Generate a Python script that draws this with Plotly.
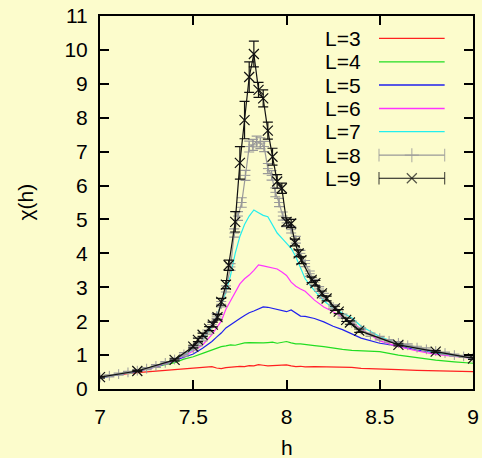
import plotly.graph_objects as go

# ---- data ----
h_grid = [7.0, 7.1, 7.2, 7.3, 7.4, 7.45, 7.5, 7.55, 7.6, 7.625, 7.65, 7.675, 7.7, 7.725,
          7.75, 7.775, 7.8, 7.825, 7.85, 7.875, 7.9, 7.925, 7.95, 7.975, 8.0, 8.025, 8.05,
          8.075, 8.1, 8.15, 8.2, 8.25, 8.3, 8.35, 8.4, 8.5, 8.6, 8.7, 8.8, 8.9, 9.0]

chi_L3 = [0.33, 0.42, 0.48, 0.53, 0.57, 0.60, 0.62, 0.65, 0.66, 0.62, 0.60, 0.63, 0.65, 0.66,
          0.67, 0.66, 0.69, 0.68, 0.72, 0.70, 0.68, 0.69, 0.70, 0.69, 0.71, 0.68, 0.66,
          0.67, 0.65, 0.66, 0.66, 0.64, 0.66, 0.64, 0.61, 0.60, 0.57, 0.55, 0.53, 0.52, 0.51]

chi_L4 = [0.33, 0.45, 0.55, 0.66, 0.78, 0.88, 0.95, 1.05, 1.15, 1.20, 1.25, 1.27, 1.30, 1.29,
          1.33, 1.36, 1.37, 1.36, 1.37, 1.36, 1.37, 1.38, 1.35, 1.38, 1.40, 1.36, 1.33,
          1.33, 1.32, 1.28, 1.25, 1.20, 1.17, 1.14, 1.13, 1.10, 1.00, 0.92, 0.85, 0.80, 0.76]

chi_L5 = [0.33, 0.43, 0.52, 0.65, 0.83, 0.93, 1.03, 1.20, 1.40, 1.53, 1.65, 1.80, 1.90, 2.00,
          2.08, 2.17, 2.25, 2.30, 2.36, 2.42, 2.41, 2.38, 2.35, 2.30, 2.28, 2.33, 2.25,
          2.15, 2.14, 2.08, 1.98, 1.85, 1.75, 1.63, 1.50, 1.35, 1.27, 1.15, 1.06, 0.98, 0.92]

chi_L6 = [0.33, 0.43, 0.53, 0.66, 0.85, 0.98, 1.12, 1.30, 1.60, 1.80, 2.00, 2.35, 2.60, 2.85,
          3.10, 3.25, 3.36, 3.50, 3.66, 3.63, 3.60, 3.57, 3.54, 3.45, 3.35, 3.15, 3.03,
          2.95, 2.88, 2.62, 2.42, 2.28, 2.13, 1.96, 1.77, 1.42, 1.25, 1.12, 1.02, 0.95, 0.90]

chi_L7 = [0.33, 0.43, 0.53, 0.68, 0.87, 1.00, 1.18, 1.45, 1.85, 2.15, 2.50, 2.85, 3.35, 4.00,
          4.50, 4.85, 5.10, 5.28, 5.20, 5.12, 5.08, 4.82, 4.60, 4.45, 4.30, 4.15, 3.90,
          3.55, 3.25, 2.90, 2.60, 2.38, 2.25, 2.10, 1.85, 1.55, 1.33, 1.20, 1.08, 0.98, 0.90]

h_L8 = [7.0, 7.05, 7.1, 7.15, 7.2, 7.25, 7.3, 7.35, 7.4, 7.45, 7.5, 7.525, 7.55, 7.575, 7.6,
        7.625, 7.65, 7.675, 7.7, 7.72, 7.74, 7.76, 7.78, 7.8, 7.82, 7.84, 7.86, 7.88, 7.9,
        7.92, 7.94, 7.96, 7.98, 8.0, 8.025, 8.05, 8.075, 8.1, 8.125, 8.15, 8.175, 8.2, 8.25,
        8.3, 8.35, 8.4, 8.45, 8.5, 8.55, 8.6, 8.65, 8.7, 8.75, 8.8, 8.85, 8.9, 8.95, 9.0]
chi_L8 = [0.34, 0.39, 0.44, 0.49, 0.54, 0.60, 0.68, 0.77, 0.87, 1.02, 1.20, 1.33, 1.48, 1.68, 1.90,
          2.15, 2.50, 2.95, 3.60, 4.60, 5.10, 5.50, 6.30, 7.15, 7.20, 7.30, 7.25, 7.15, 6.50,
          6.30, 5.80, 5.50, 5.10, 4.90, 4.70, 4.40, 4.00, 3.70, 3.40, 3.15, 2.95, 2.75, 2.42,
          2.15, 1.95, 1.75, 1.60, 1.50, 1.42, 1.36, 1.29, 1.22, 1.17, 1.12, 1.06, 1.00, 0.96, 0.92]
err_L8 = [0.03, 0.03, 0.03, 0.03, 0.03, 0.03, 0.04, 0.04, 0.04, 0.05, 0.05, 0.05, 0.06, 0.06, 0.07,
          0.07, 0.08, 0.09, 0.10, 0.12, 0.13, 0.14, 0.15, 0.16, 0.16, 0.16, 0.16, 0.15, 0.15,
          0.14, 0.13, 0.12, 0.12, 0.11, 0.10, 0.10, 0.09, 0.09, 0.08, 0.08, 0.07, 0.07, 0.06,
          0.06, 0.05, 0.05, 0.05, 0.05, 0.04, 0.04, 0.04, 0.04, 0.04, 0.03, 0.03, 0.03, 0.03, 0.03]

h_L9 = [7.0, 7.2, 7.4, 7.5, 7.525, 7.55, 7.585, 7.605, 7.63, 7.65, 7.675, 7.69, 7.725, 7.75,
        7.775, 7.8, 7.825, 7.85, 7.875, 7.9, 7.925, 7.95, 7.975, 8.0, 8.025, 8.045, 8.065,
        8.08, 8.135, 8.155, 8.19, 8.215, 8.26, 8.28, 8.32, 8.34, 8.39, 8.6, 8.8, 9.0]
chi_L9 = [0.35, 0.53, 0.86, 1.25, 1.45, 1.60, 1.78, 1.90, 2.12, 2.57, 3.08, 3.65, 4.93, 6.67,
          7.93, 9.20, 9.88, 8.82, 8.57, 7.62, 6.85, 6.12, 5.92, 4.93, 4.88, 4.32, 4.00,
          3.80, 3.22, 3.12, 2.82, 2.67, 2.38, 2.28, 2.04, 1.96, 1.72, 1.30, 1.10, 0.90]
err_L9 = [0.02, 0.02, 0.03, 0.04, 0.05, 0.05, 0.06, 0.07, 0.08, 0.10, 0.12, 0.15, 0.30, 0.48,
          0.55, 0.45, 0.38, 0.22, 0.25, 0.25, 0.25, 0.20, 0.15, 0.12, 0.12, 0.10, 0.10,
          0.10, 0.08, 0.08, 0.07, 0.07, 0.06, 0.06, 0.05, 0.05, 0.05, 0.03, 0.03, 0.03]

labels = ["L=3", "L=4", "L=5", "L=6", "L=7", "L=8", "L=9"]
colors = ["#FF2020", "#22DD22", "#2020EE", "#FF33FF", "#22EEEE", "#999999", "#111111"]

x_ticks = [7, 7.5, 8, 8.5, 9]
x_ticktext = ["7", "7.5", "8", "8.5", "9"]
y_ticks = list(range(0, 12))

BG = "#FCFCCC"
FONT = "Liberation Sans, Arial, sans-serif"

fig = go.Figure()

plain = [chi_L3, chi_L4, chi_L5, chi_L6, chi_L7]
for i, ys in enumerate(plain):
    fig.add_trace(go.Scatter(x=h_grid, y=ys, mode="lines",
                             line=dict(color=colors[i], width=1.2), showlegend=False))

fig.add_trace(go.Scatter(
    x=h_L8, y=chi_L8, mode="lines+markers",
    line=dict(color=colors[5], width=1.2),
    marker=dict(symbol="cross-thin", size=7, line=dict(color=colors[5], width=1)),
    error_y=dict(type="data", array=err_L8, visible=True, color=colors[5], thickness=1.2, width=5),
    showlegend=False))

fig.add_trace(go.Scatter(
    x=h_L9, y=chi_L9, mode="lines+markers",
    line=dict(color=colors[6], width=1.2),
    marker=dict(symbol="x-thin", size=10, line=dict(color=colors[6], width=1.2)),
    error_y=dict(type="data", array=err_L9, visible=True, color=colors[6], thickness=1.2, width=5),
    showlegend=False))

# ---- key (drawn on an overlay axis spanning the plot area, 0..1) ----
key_y = [0.940, 0.877, 0.815, 0.752, 0.690, 0.627, 0.565]
key_x0, key_xm, key_x1 = 0.748, 0.836, 0.924
for i, lab in enumerate(labels):
    if i < 5:
        fig.add_trace(go.Scatter(x=[key_x0, key_x1], y=[key_y[i]] * 2, mode="lines",
                                 line=dict(color=colors[i], width=1.4),
                                 xaxis="x2", yaxis="y2", showlegend=False))
    else:
        mid = "cross-thin" if i == 5 else "x-thin"
        fig.add_trace(go.Scatter(x=[key_x0, key_xm, key_x1], y=[key_y[i]] * 3,
                                 mode="lines+markers",
                                 line=dict(color=colors[i], width=1.2),
                                 marker=dict(symbol=["line-ns", mid, "line-ns"],
                                             size=[9, 10, 9],
                                             line=dict(color=colors[i], width=1.2)),
                                 xaxis="x2", yaxis="y2", showlegend=False))
    fig.add_annotation(x=0.705, y=key_y[i], xref="paper", yref="paper", text=lab,
                       showarrow=False, xanchor="right", yanchor="middle",
                       font=dict(size=21, color="black", family=FONT))

# axis titles
fig.add_annotation(x=-0.201, y=0.5, xref="paper", yref="paper", text="χ(h)",
                   textangle=-90, showarrow=False, xanchor="center", yanchor="middle",
                   font=dict(size=21, color="black", family=FONT))
fig.add_annotation(x=0.5, y=-0.158, xref="paper", yref="paper", text="h",
                   showarrow=False, xanchor="center", yanchor="middle",
                   font=dict(size=21, color="black", family=FONT))

axis_common = dict(showline=True, linecolor="black", linewidth=2, mirror="ticks",
                   ticks="inside", ticklen=9, tickwidth=1.5, tickcolor="black",
                   showgrid=False, zeroline=False, automargin=False,
                   tickfont=dict(size=21, color="black", family=FONT))

fig.update_layout(
    width=482, height=458,
    margin=dict(l=100, r=9, t=16, b=69, autoexpand=False),
    paper_bgcolor=BG, plot_bgcolor=BG,
    showlegend=False,
    xaxis=dict(range=[7, 9], tickvals=x_ticks, ticktext=x_ticktext,
               ticklabelstandoff=8, **axis_common),
    yaxis=dict(range=[0, 11], tickvals=y_ticks, ticklabelstandoff=6, **axis_common),
    xaxis2=dict(overlaying="x", range=[0, 1], visible=False),
    yaxis2=dict(overlaying="y", range=[0, 1], visible=False),
)

fig.write_html("out.html")
